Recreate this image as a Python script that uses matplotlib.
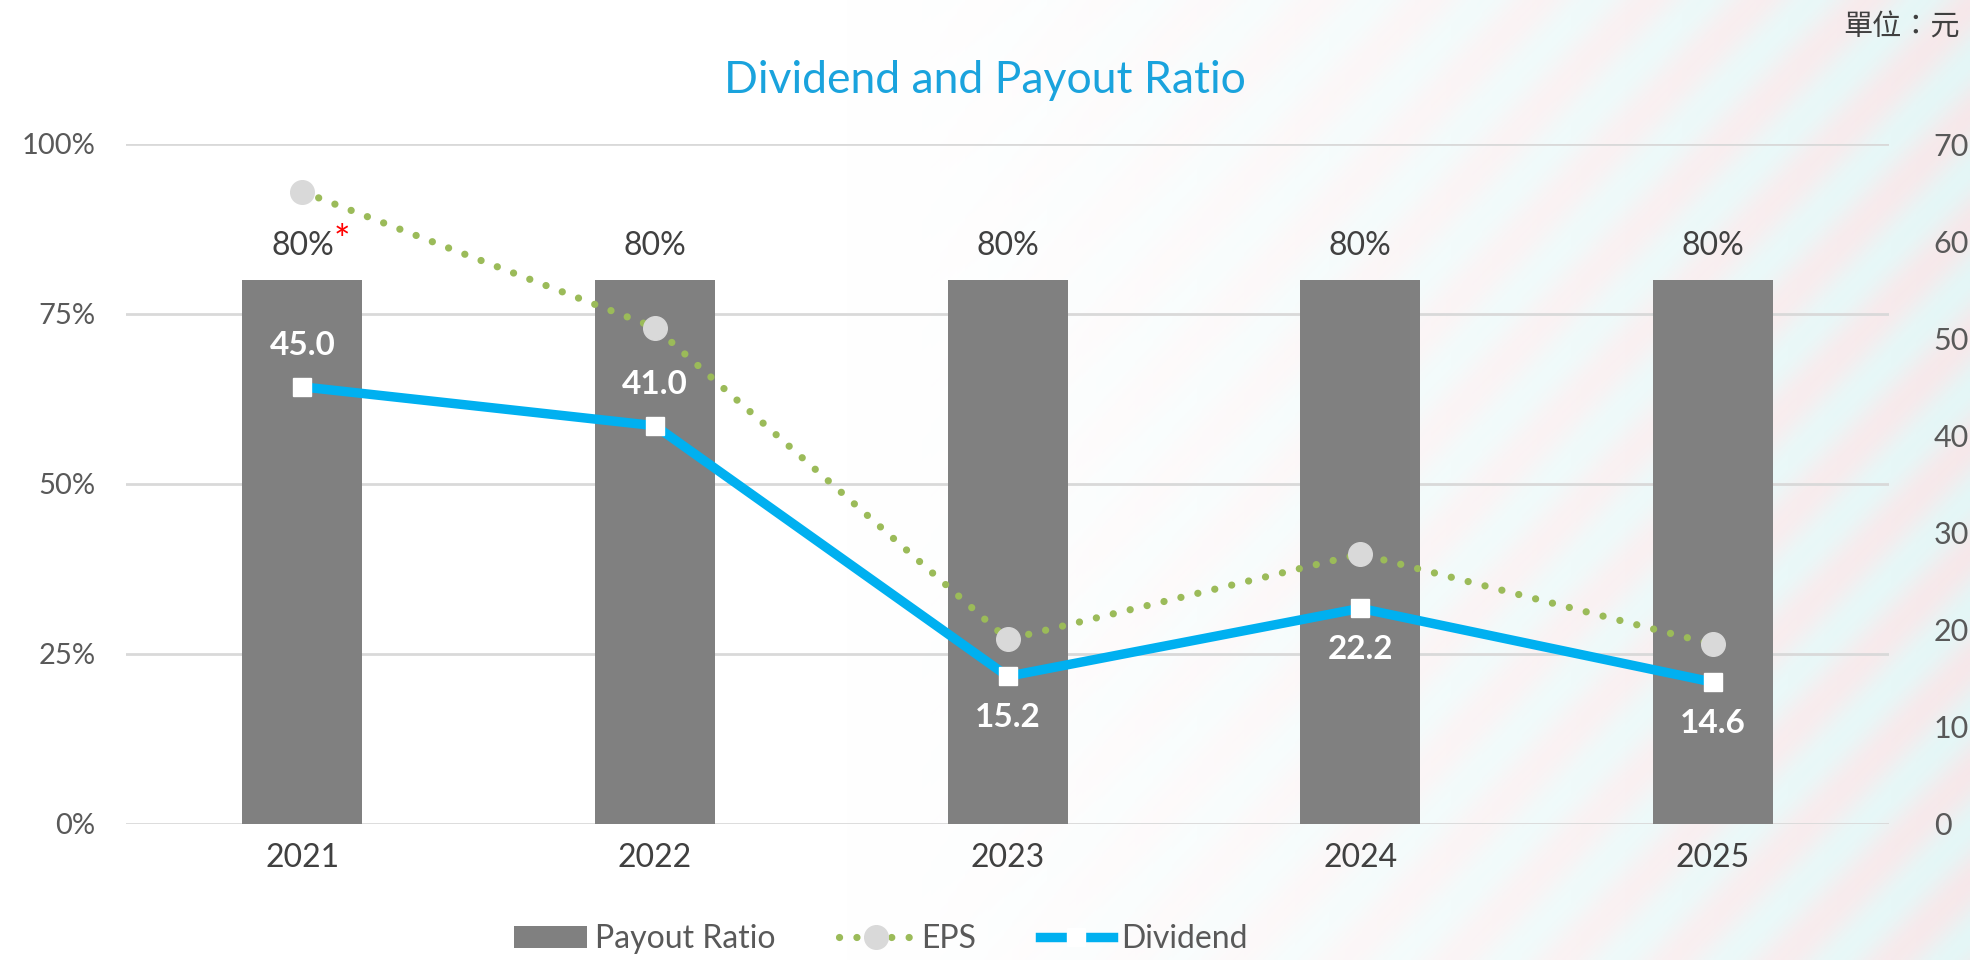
import numpy as np
import matplotlib
matplotlib.use("Agg")
import matplotlib.pyplot as plt
from matplotlib.patches import Patch
from matplotlib.lines import Line2D

plt.rcParams['font.family'] = ['Lato', 'Noto Sans CJK TC', 'DejaVu Sans']

years = ['2021', '2022', '2023', '2024', '2025']
payout_ratio = [0.80, 0.80, 0.80, 0.80, 0.80]
payout_labels = ['80%', '80%', '80%', '80%', '80%']
eps = [65.1, 51.1, 19.0, 27.8, 18.5]
dividend = [45.0, 41.0, 15.2, 22.2, 14.6]
dividend_labels = ['45.0', '41.0', '15.2', '22.2', '14.6']
# label above (+1) or below (-1) the dividend marker
dividend_label_side = [1, 1, -1, -1, -1]

left_ticks = [0, 0.25, 0.5, 0.75, 1.0]
left_ticklabels = ['0%', '25%', '50%', '75%', '100%']
right_ticks = [0, 10, 20, 30, 40, 50, 60, 70]

grey_text = '#595959'
bar_col = '#808080'
eps_col = '#9BBB59'
div_col = '#00B0F0'
title_col = '#1AA3DD'

fig = plt.figure(figsize=(19.7, 9.6), dpi=100)

# faint backdrop on the right side (stand-in for the circuit image)
bg = fig.add_axes([0, 0, 1, 1], zorder=-10)
bg.axis('off')
w, h = 800, 400
xx = np.linspace(0, 1, w)[None, :].repeat(h, axis=0)
yy = np.linspace(0, 1, h)[:, None].repeat(w, axis=1)
alpha = np.clip((xx - 0.42) / 0.58, 0, 1) ** 1.3 * 0.8
mix = 0.5 + 0.5 * np.sin((xx * 2.05 - yy) * 55)
img = np.zeros((h, w, 4))
img[..., 0] = 0.87 + 0.09 * mix
img[..., 1] = 0.96 - 0.07 * mix
img[..., 2] = 0.96 - 0.06 * mix
img[..., 3] = alpha
bg.imshow(img, extent=[0, 1, 0, 1], aspect='auto', origin='lower')
bg.set_xlim(0, 1)
bg.set_ylim(0, 1)

ax = fig.add_axes([0.064, 0.1417, 0.895, 0.7083])
ax.patch.set_alpha(0)
x = np.arange(len(years))

ax.bar(x, payout_ratio, width=0.34, color=bar_col, zorder=2)
ax.set_ylim(0, 1.0)
ax.set_xlim(-0.5, len(years) - 0.5)
ax.set_yticks(left_ticks)
ax.set_yticklabels(left_ticklabels)
ax.grid(axis='y', color='#D9D9D9', linewidth=2, zorder=0)
ax.set_axisbelow(True)
for s in ax.spines.values():
    s.set_visible(False)
ax.set_xticks(x)
ax.set_xticklabels(years)
ax.tick_params(axis='x', length=0, pad=14, labelsize=23, labelcolor='#404040')
ax.tick_params(axis='y', length=0, pad=22, labelsize=21, labelcolor=grey_text)

for i, lab in enumerate(payout_labels):
    ax.annotate(lab, (x[i], payout_ratio[i]), xytext=(0, 34), textcoords='offset pixels',
                ha='center', va='center', fontsize=23, color='#404040')
ax.annotate('*', (x[0], payout_ratio[0]), xytext=(39, 38), textcoords='offset pixels',
            ha='center', va='center', fontsize=28, color='red')

ax2 = ax.twinx()
ax2.set_ylim(0, 70)
ax2.set_yticks(right_ticks)
for s in ax2.spines.values():
    s.set_visible(False)
ax2.tick_params(axis='y', length=0, pad=32, labelsize=22, labelcolor=grey_text)

ax2.plot(x, eps, color=eps_col, linewidth=5.2, linestyle=(0, (0.01, 2.4)),
         dash_capstyle='round', zorder=3)
ax2.plot(x, eps, linestyle='none', marker='o', markersize=17, color='#D9D9D9', zorder=4)
ax2.plot(x, dividend, color=div_col, linewidth=6.8, zorder=5)
ax2.plot(x, dividend, linestyle='none', marker='s', markersize=13,
         color='white', zorder=6)

for i, lab in enumerate(dividend_labels):
    ax2.annotate(lab, (x[i], dividend[i]), xytext=(0, 41 * dividend_label_side[i]),
                 textcoords='offset pixels', ha='center', va='center',
                 fontsize=24, color='white', fontweight='bold', zorder=7)

fig.text(0.5, 0.916, 'Dividend and Payout Ratio', ha='center', va='center',
         fontsize=32, color=title_col)
fig.text(0.995, 0.971, '單位：元', ha='right', va='center', fontsize=21,
         color='#404040', family=['Noto Sans CJK TC', 'DejaVu Sans'])

handles = [
    Patch(facecolor=bar_col, edgecolor='none'),
    Line2D([0], [0], color=eps_col, linewidth=5.2, linestyle=(0, (0.01, 2.4)),
           dash_capstyle='round', marker='o', markersize=17,
           markerfacecolor='#D9D9D9', markeredgecolor='#D9D9D9'),
    Line2D([0], [0], color=div_col, linewidth=6.8, marker='s', markersize=13,
           markerfacecolor='white', markeredgecolor='white'),
]
fig.legend(handles, ['Payout Ratio', 'EPS', 'Dividend'], loc='center',
           bbox_to_anchor=(0.447, 0.022), ncol=3, frameon=False, fontsize=23,
           labelcolor=grey_text, handlelength=2.3, columnspacing=2.0,
           handletextpad=0.25)

fig.savefig('out.png', dpi=100)
